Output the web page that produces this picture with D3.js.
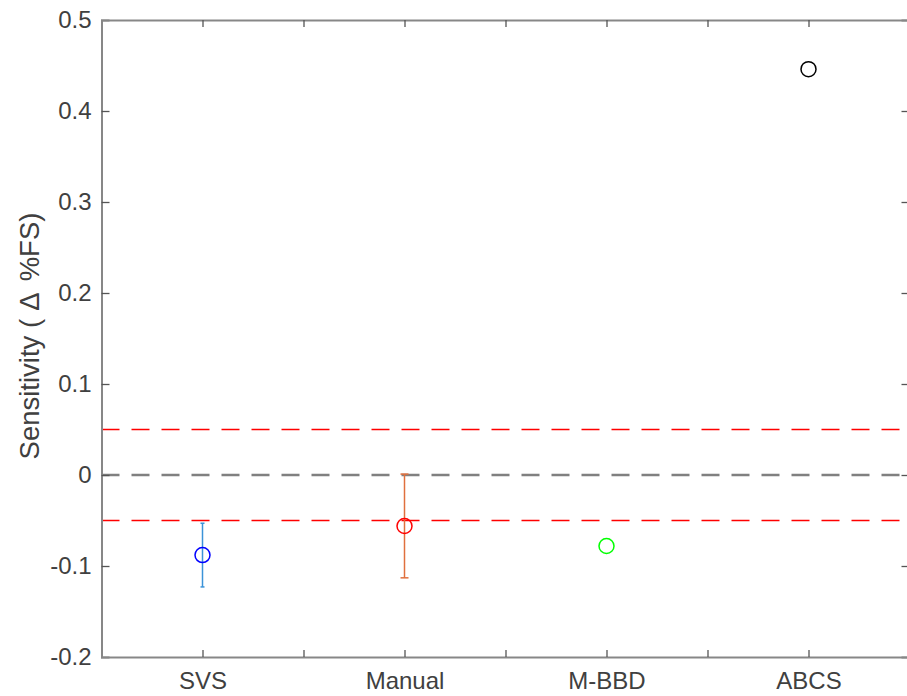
<!DOCTYPE html>
<html>
<head>
<meta charset="utf-8">
<script src="https://cdn.jsdelivr.net/npm/d3@7"></script>
<style>
  html, body { margin: 0; padding: 0; background: #fff; }
  svg { display: block; }
  text { font-family: "Liberation Sans", Arial, Helvetica, sans-serif; }
</style>
</head>
<body>
<svg id="chart" width="907" height="696"></svg>
<script>
// ---- data ----
const categories = ["SVS", "Manual", "M-BBD", "ABCS"];
const means = [-0.088, -0.056, -0.078, 0.446];
const errors = [0.035, 0.057, 0, 0];
const markerColors = ["#0000ff", "#ff0000", "#00ff00", "#000000"];
const errorColors = ["#3b93d8", "#e0703e", "#00ff00", "#000000"];
const yTicks = [-0.2, -0.1, 0, 0.1, 0.2, 0.3, 0.4, 0.5];
const yTickLabels = ["-0.2", "-0.1", "0", "0.1", "0.2", "0.3", "0.4", "0.5"];
const xTicks = [0.5, 1, 1.5, 2, 2.5, 3, 3.5, 4, 4.5];
const refLinesRed = [-0.05, 0.05];
const refLineZero = [0];
const yLabelParts = ["Sensitivity (", "\u0394", " %FS)"];

// ---- layout ----
const svg = d3.select("#chart");
const mLeft = 101.5, mRight = 909.5, mTop = 20, mBottom = 657;
const x = d3.scaleLinear().domain([0.5, 4.5]).range([mLeft, mRight]);
const y = d3.scaleLinear().domain([-0.2, 0.5]).range([mBottom, mTop]);
const axisColor = "#878787";
const textColor = "#404040";

// reference lines
const g = svg.append("g");
g.selectAll("line.red").data(refLinesRed).enter().append("line")
  .attr("x1", x(0.5)).attr("x2", x(4.5))
  .attr("y1", d => y(d)).attr("y2", d => y(d))
  .attr("stroke", "#ff0000").attr("stroke-width", 1.5)
  .attr("stroke-dasharray", "18,12");
g.selectAll("line.zero").data(refLineZero).enter().append("line")
  .attr("x1", x(0.5)).attr("x2", x(4.5))
  .attr("y1", d => y(d)).attr("y2", d => y(d))
  .attr("stroke", "#808080").attr("stroke-width", 2.6)
  .attr("stroke-dasharray", "18,12");

// error bars
const idx = d3.range(categories.length).filter(i => errors[i] > 0);
const eb = svg.append("g");
eb.selectAll("line.v").data(idx).enter().append("line")
  .attr("x1", i => x(i + 1)).attr("x2", i => x(i + 1))
  .attr("y1", i => y(means[i] + errors[i])).attr("y2", i => y(means[i] - errors[i]))
  .attr("stroke", i => errorColors[i]).attr("stroke-width", 1.5);
const capW = [2, 4, 0, 0];
[1, -1].forEach(s => {
  eb.selectAll("line.c" + s).data(idx).enter().append("line")
    .attr("x1", i => x(i + 1) - capW[i]).attr("x2", i => x(i + 1) + capW[i])
    .attr("y1", i => y(means[i] + s * errors[i])).attr("y2", i => y(means[i] + s * errors[i]))
    .attr("stroke", i => errorColors[i]).attr("stroke-width", 1.5);
});

// markers
svg.append("g").selectAll("circle").data(means).enter().append("circle")
  .attr("cx", (d, i) => x(i + 1)).attr("cy", d => y(d))
  .attr("r", 7.5).attr("fill", "none")
  .attr("stroke", (d, i) => markerColors[i]).attr("stroke-width", 1.5);

// axes box
const axG = svg.append("g");
const yAxis = axG.append("g").attr("transform", `translate(${mLeft},0)`)
  .call(d3.axisLeft(y).tickValues(yTicks).tickSize(-8).tickPadding(10)
    .tickFormat((d, i) => yTickLabels[i]));
const yAxisR = axG.append("g").attr("transform", `translate(${mRight},0)`)
  .call(d3.axisRight(y).tickValues(yTicks).tickSize(-8).tickFormat(""));
const xAxis = axG.append("g").attr("transform", `translate(0,${mBottom})`)
  .call(d3.axisBottom(x).tickValues(xTicks).tickSize(-7).tickPadding(15)
    .tickFormat(d => Number.isInteger(d) ? categories[d - 1] : ""));
const xAxisT = axG.append("g").attr("transform", `translate(0,${mTop})`)
  .call(d3.axisTop(x).tickValues(xTicks).tickSize(-7).tickFormat(""));

axG.selectAll(".domain").attr("stroke", axisColor).attr("stroke-width", 2);
axG.selectAll(".tick line").attr("stroke", "#555").attr("stroke-width", 1.3);
axG.selectAll(".tick text").attr("fill", textColor)
  .style("font-size", "24px");
xAxis.selectAll(".tick").filter(d => d === 0.5 || d === 4.5).select("line").remove();
xAxisT.selectAll(".tick").filter(d => d === 0.5 || d === 4.5).select("line").remove();
yAxis.selectAll(".tick").filter(d => d === -0.2 || d === 0.5).select("line").remove();
yAxisR.selectAll(".tick").filter(d => d === -0.2 || d === 0.5).select("line").remove();
xAxis.selectAll(".tick text").attr("dy", "0.71em");

// y label
const yl = svg.append("text")
  .attr("transform", `translate(39,336) rotate(-90)`)
  .attr("text-anchor", "middle")
  .attr("fill", textColor)
  .style("font-size", "27.5px");
yl.append("tspan").text(yLabelParts[0]);
yl.append("tspan").attr("dx", 8).text(yLabelParts[1]);
yl.append("tspan").attr("dx", 5).text(yLabelParts[2]);
</script>
</body>
</html>
